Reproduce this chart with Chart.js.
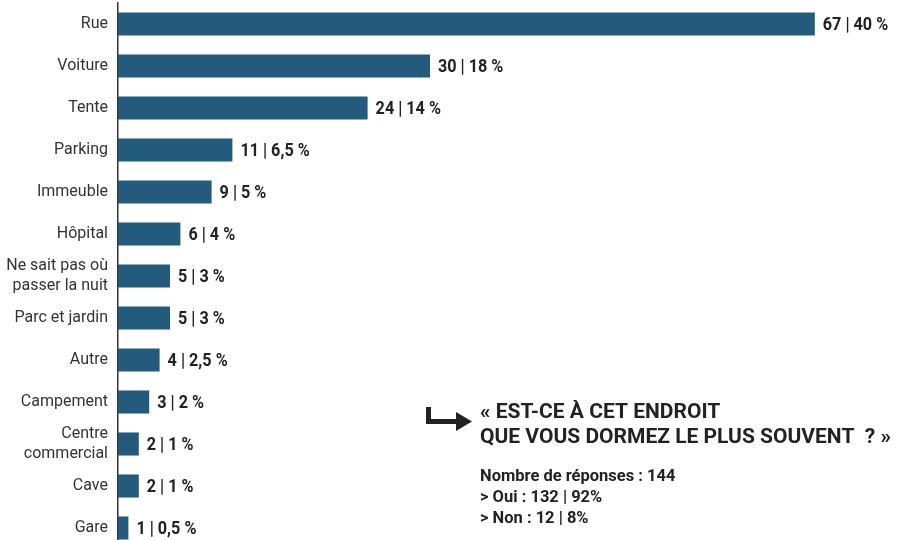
<!DOCTYPE html>
<html lang="fr">
<head>
<meta charset="utf-8">
<script src="https://cdn.jsdelivr.net/npm/chart.js@4"></script>
<style>
  html, body { margin: 0; padding: 0; background: #fff; overflow: hidden; }
  #wrap { position: relative; width: 898px; height: 549px; }
</style>
</head>
<body>
<div id="wrap"><canvas id="graphique"></canvas></div>
<script>
// Données
const lieux = ["Rue", "Voiture", "Tente", "Parking", "Immeuble", "Hôpital",
  ["Ne sait pas où", "passer la nuit"], "Parc et jardin", "Autre", "Campement",
  ["Centre", "commercial"], "Cave", "Gare"];
const reponses = [67, 30, 24, 11, 9, 6, 5, 5, 4, 3, 2, 2, 1];
const pourcents = ["40 %", "18 %", "14 %", "6,5 %", "5 %", "4 %", "3 %", "3 %", "2,5 %", "2 %", "1 %", "1 %", "0,5 %"];

const question = ["« EST-CE À CET ENDROIT", "QUE VOUS DORMEZ LE PLUS SOUVENT  ? »"];
const details = ["Nombre de réponses : 144", "> Oui : 132 | 92%", "> Non : 12 | 8%"];

const couleurBarre = "#245b7c";
const couleurTexte = "#222222";

// texte un peu "condensé" (la police d'origine est étroite)
function texteEtroit(ctx, txt, x, y, serre) {
  ctx.save();
  ctx.translate(x, y);
  ctx.scale(serre, 1);
  ctx.fillText(txt, 0, 0);
  ctx.restore();
}

const etiquettes = {
  id: "etiquettes",
  afterDatasetsDraw(chart) {
    const ctx = chart.ctx;
    const meta = chart.getDatasetMeta(0);
    ctx.save();
    ctx.fillStyle = couleurTexte;
    ctx.font = "bold 18px Roboto";
    ctx.textBaseline = "middle";
    ctx.textAlign = "left";
    meta.data.forEach((barre, i) => {
      texteEtroit(ctx, reponses[i] + " | " + pourcents[i], barre.x + 8, barre.y + 1, 0.9);
    });
    ctx.restore();
  },
  afterDraw(chart) {
    const ctx = chart.ctx;
    ctx.save();
    // flèche
    ctx.fillStyle = couleurTexte;
    ctx.fillRect(426, 407, 5, 17);
    ctx.fillRect(426, 419, 33, 5);
    ctx.beginPath();
    ctx.moveTo(456, 412);
    ctx.lineTo(472, 421.5);
    ctx.lineTo(456, 431);
    ctx.closePath();
    ctx.fill();

    ctx.textAlign = "left";
    ctx.textBaseline = "alphabetic";
    ctx.font = "bold 21px Roboto";
    texteEtroit(ctx, question[0], 480, 418, 1);
    texteEtroit(ctx, question[1], 480, 443, 1);
    ctx.font = "bold 17px Roboto";
    details.forEach((ligne, i) => {
      texteEtroit(ctx, ligne, 480, 481 + i * 21, 0.97);
    });
    ctx.restore();
  }
};

new Chart(document.getElementById("graphique"), {
  type: "bar",
  data: {
    labels: lieux,
    datasets: [{
      data: reponses,
      backgroundColor: couleurBarre,
      borderWidth: 0,
      categoryPercentage: 1,
      barPercentage: 0.55
    }]
  },
  options: {
    indexAxis: "y",
    responsive: true,
    maintainAspectRatio: false,
    animation: false,
    layout: { padding: { top: 3, right: 0, bottom: 0, left: 0 } },
    plugins: {
      legend: { display: false },
      tooltip: { enabled: false }
    },
    scales: {
      x: {
        display: false,
        min: 0,
        max: 75
      },
      y: {
        afterFit(scale) {
          scale.width = 118;
          scale.paddingTop = 0;
          scale.paddingBottom = 0;
        },
        grid: { display: false, drawTicks: false },
        border: { display: true, color: "#333333", width: 1.5 },
        ticks: {
          autoSkip: false,
          padding: 10,
          color: "#333333",
          font: { family: "Roboto", size: 16, lineHeight: 1.3 }
        }
      }
    }
  },
  plugins: [etiquettes]
});
</script>
</body>
</html>
